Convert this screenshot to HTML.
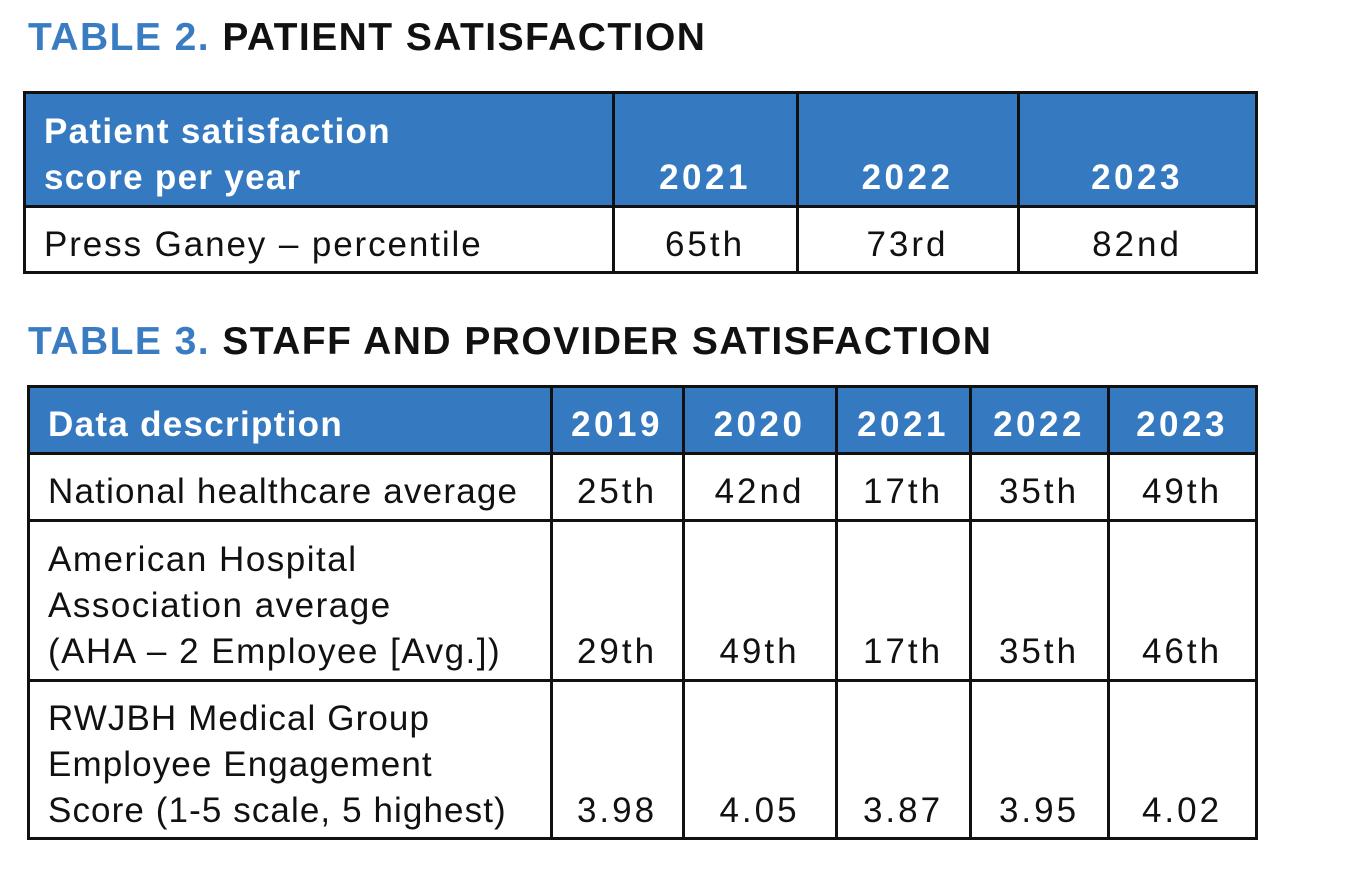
<!DOCTYPE html>
<html><head><meta charset="utf-8"><style>
body{margin:0;width:1350px;height:870px;background:#fff;position:relative;overflow:hidden;font-family:"Liberation Sans",sans-serif;}
.t{position:absolute;font-weight:bold;font-size:39px;letter-spacing:1.45px;line-height:46px;color:#111;white-space:nowrap}
.t b{color:#3a7cc2}
.c{position:absolute;box-sizing:border-box;display:flex;align-items:flex-end;padding-bottom:5px;font-size:35px;line-height:46px;color:#111;white-space:nowrap;letter-spacing:1.5px}
.h{background:#357ac0;color:#fff;font-weight:bold;letter-spacing:1.3px}
.l{padding-left:20px}
.m{justify-content:center;letter-spacing:3px}
.h.m{letter-spacing:3.5px}
.ln{position:absolute;background:#111}
</style></head><body>
<div class="t" style="left:28px;top:15px"><b>TABLE 2.</b> PATIENT SATISFACTION</div>
<div class="t" style="left:28px;top:319px"><b>TABLE 3.</b> STAFF AND PROVIDER SATISFACTION</div>

<div class="c h l" style="left:24px;top:92px;width:589px;height:114px">Patient satisfaction<br>score per year</div>
<div class="c h m" style="left:613px;top:92px;width:184px;height:114px">2021</div>
<div class="c h m" style="left:797px;top:92px;width:221px;height:114px">2022</div>
<div class="c h m" style="left:1018px;top:92px;width:238px;height:114px">2023</div>
<div class="c l" style="left:24px;top:206px;width:589px;height:67px;letter-spacing:1.9px">Press Ganey – percentile</div>
<div class="c m" style="left:613px;top:206px;width:184px;height:67px">65th</div>
<div class="c m" style="left:797px;top:206px;width:221px;height:67px">73rd</div>
<div class="c m" style="left:1018px;top:206px;width:238px;height:67px">82nd</div>
<div class="ln" style="left:23px;top:91px;width:1235px;height:3px"></div>
<div class="ln" style="left:23px;top:205px;width:1235px;height:3px"></div>
<div class="ln" style="left:23px;top:271px;width:1235px;height:3px"></div>
<div class="ln" style="left:23px;top:91px;width:3px;height:183px"></div>
<div class="ln" style="left:612px;top:91px;width:3px;height:183px"></div>
<div class="ln" style="left:796px;top:91px;width:3px;height:183px"></div>
<div class="ln" style="left:1017px;top:91px;width:3px;height:183px"></div>
<div class="ln" style="left:1255px;top:91px;width:3px;height:183px"></div>

<div class="c h l" style="left:28px;top:386px;width:523px;height:67px">Data description</div>
<div class="c h m" style="left:551px;top:386px;width:132px;height:67px">2019</div>
<div class="c h m" style="left:683px;top:386px;width:153px;height:67px">2020</div>
<div class="c h m" style="left:836px;top:386px;width:134px;height:67px">2021</div>
<div class="c h m" style="left:970px;top:386px;width:138px;height:67px">2022</div>
<div class="c h m" style="left:1108px;top:386px;width:148px;height:67px">2023</div>

<div class="c l" style="left:28px;top:453px;width:523px;height:67px;letter-spacing:1.2px">National healthcare average</div>
<div class="c m" style="left:551px;top:453px;width:132px;height:67px">25th</div>
<div class="c m" style="left:683px;top:453px;width:153px;height:67px">42nd</div>
<div class="c m" style="left:836px;top:453px;width:134px;height:67px">17th</div>
<div class="c m" style="left:970px;top:453px;width:138px;height:67px">35th</div>
<div class="c m" style="left:1108px;top:453px;width:148px;height:67px">49th</div>

<div class="c l" style="left:28px;top:520px;width:523px;height:160px">American Hospital<br>Association average<br>(AHA – 2 Employee [Avg.])</div>
<div class="c m" style="left:551px;top:520px;width:132px;height:160px">29th</div>
<div class="c m" style="left:683px;top:520px;width:153px;height:160px">49th</div>
<div class="c m" style="left:836px;top:520px;width:134px;height:160px">17th</div>
<div class="c m" style="left:970px;top:520px;width:138px;height:160px">35th</div>
<div class="c m" style="left:1108px;top:520px;width:148px;height:160px">46th</div>

<div class="c l" style="left:28px;top:680px;width:523px;height:159px;letter-spacing:1.1px">RWJBH Medical Group<br>Employee Engagement<br>Score (1-5 scale, 5 highest)</div>
<div class="c m" style="left:551px;top:680px;width:132px;height:159px">3.98</div>
<div class="c m" style="left:683px;top:680px;width:153px;height:159px">4.05</div>
<div class="c m" style="left:836px;top:680px;width:134px;height:159px">3.87</div>
<div class="c m" style="left:970px;top:680px;width:138px;height:159px">3.95</div>
<div class="c m" style="left:1108px;top:680px;width:148px;height:159px">4.02</div>

<div class="ln" style="left:27px;top:385px;width:1231px;height:3px"></div>
<div class="ln" style="left:27px;top:452px;width:1231px;height:3px"></div>
<div class="ln" style="left:27px;top:519px;width:1231px;height:3px"></div>
<div class="ln" style="left:27px;top:679px;width:1231px;height:3px"></div>
<div class="ln" style="left:27px;top:837px;width:1231px;height:3px"></div>
<div class="ln" style="left:27px;top:385px;width:3px;height:455px"></div>
<div class="ln" style="left:550px;top:385px;width:3px;height:455px"></div>
<div class="ln" style="left:682px;top:385px;width:3px;height:455px"></div>
<div class="ln" style="left:835px;top:385px;width:3px;height:455px"></div>
<div class="ln" style="left:969px;top:385px;width:3px;height:455px"></div>
<div class="ln" style="left:1107px;top:385px;width:3px;height:455px"></div>
<div class="ln" style="left:1255px;top:385px;width:3px;height:455px"></div>
</body></html>
